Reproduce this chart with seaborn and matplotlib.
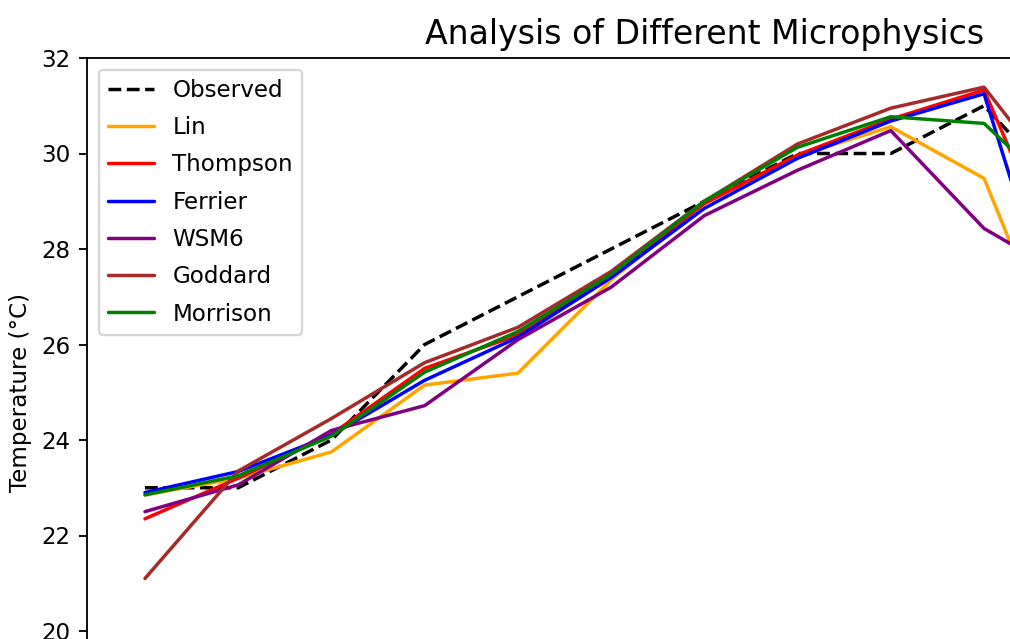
import matplotlib
matplotlib.use("Agg")
import matplotlib.pyplot as plt
import seaborn as sns
import pandas as pd

# ---- data ----
steps = [0, 1, 2, 3, 4, 5, 6, 7, 8, 9, 10]
observed = [23.0, 23.0, 24.0, 26.0, 27.0, 28.0, 29.0, 30.0, 30.0, 31.0, 28.9]
lin      = [22.85, 23.2, 23.75, 25.15, 25.4, 27.35, 28.95, 29.95, 30.56, 29.48, 24.7]
thompson = [22.35, 23.2, 24.12, 25.5, 26.2, 27.45, 28.95, 29.97, 30.72, 31.33, 26.8]
ferrier  = [22.9, 23.34, 24.1, 25.25, 26.15, 27.4, 28.85, 29.9, 30.68, 31.25, 25.0]
wsm6     = [22.5, 23.06, 24.2, 24.72, 26.1, 27.2, 28.7, 29.65, 30.48, 28.43, 27.3]
goddard  = [21.1, 23.35, 24.45, 25.62, 26.36, 27.53, 29.0, 30.2, 30.95, 31.39, 28.9]
morrison = [22.85, 23.25, 24.08, 25.42, 26.27, 27.47, 29.0, 30.13, 30.77, 30.63, 28.8]

series = [
    ("Observed", observed, "black", "--"),
    ("Lin", lin, "orange", "-"),
    ("Thompson", thompson, "red", "-"),
    ("Ferrier", ferrier, "blue", "-"),
    ("WSM6", wsm6, "purple", "-"),
    ("Goddard", goddard, "brown", "-"),
    ("Morrison", morrison, "green", "-"),
]

sns.set_style("ticks")
plt.rcParams["font.family"] = ["DejaVu Sans"]
for k in ["text.color", "axes.labelcolor", "xtick.color", "ytick.color",
          "axes.edgecolor"]:
    plt.rcParams[k] = "black"

DPI = 166
fig = plt.figure(figsize=(1010 / DPI, 639 / DPI), dpi=DPI)
W, H = 1010.0, 639.0
# axes extends beyond the visible (cropped) canvas
ax_left, ax_right = 87.0, 1321.5
ax_top, ax_bottom = 58.0, 58.0 + 14 * 47.75
ax = fig.add_axes([ax_left / W, 1 - ax_bottom / H,
                   (ax_right - ax_left) / W, (ax_bottom - ax_top) / H])

for name, vals, color, ls in series:
    df = pd.DataFrame({"step": steps, "temp": vals})
    sns.lineplot(data=df, x="step", y="temp", ax=ax, color=color,
                 linestyle=ls, label=name, linewidth=1.5)

ax.set_xlim(-0.622, 12.62)
ax.set_ylim(18, 32)
ax.set_yticks([20, 22, 24, 26, 28, 30, 32])
ax.set_xticks([])
ax.set_xlabel("")
ax.set_ylabel("Temperature (°C)")
ax.set_title("Analysis of Different Microphysics", fontsize=14.4)
for s in ax.spines.values():
    s.set_visible(True)
    s.set_color("black")
ax.legend(loc="upper left", fontsize=10, labelspacing=0.62)

fig.savefig("out.png", dpi=DPI)
